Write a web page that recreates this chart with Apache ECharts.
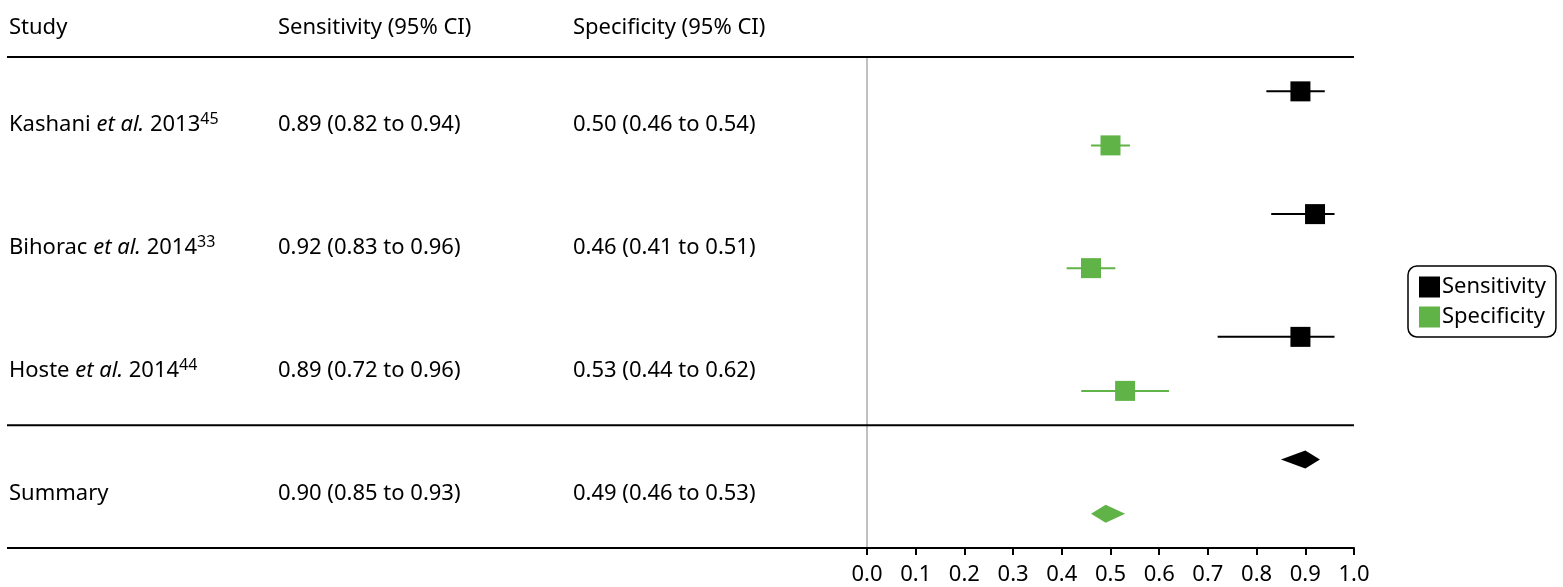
<!DOCTYPE html>
<html><head><meta charset="utf-8">
<script src="https://cdn.jsdelivr.net/npm/echarts@6/dist/echarts.min.js"></script>
<style>html,body{margin:0;padding:0;background:#fff}#c{width:1563px;height:587px}</style>
</head><body><div id="c"></div>
<script>
// ---- data ----
const studyNames = ['Kashani', 'Bihorac', 'Hoste'];
const studyYears = ['2013', '2014', '2014'];
const studyRefs = ['45', '33', '44'];
const sensEst = [0.89, 0.92, 0.89];
const sensLow = [0.82, 0.83, 0.72];
const sensHigh = [0.94, 0.96, 0.96];
const specEst = [0.50, 0.46, 0.53];
const specLow = [0.46, 0.41, 0.44];
const specHigh = [0.54, 0.51, 0.62];
const summarySens = [0.90, 0.85, 0.93]; // est, low, high
const summarySpec = [0.49, 0.46, 0.53];
const headers = ['Study', 'Sensitivity (95% CI)', 'Specificity (95% CI)'];
const xTickLabels = ['0.0','0.1','0.2','0.3','0.4','0.5','0.6','0.7','0.8','0.9','1.0'];

const GREEN = '#60b346';
const FONT = '"Noto Sans", "Open Sans", sans-serif';
const FS = 22;

// layout (row slots)
const SENS_OFF = 0.28, SPEC_OFF = 0.72, TEXT_OFF = 0.555;
const COLS = [9, 278, 573];
const RULE_X = [7, 1354];

function fmt(e, l, h) { return e.toFixed(2) + ' (' + l.toFixed(2) + ' to ' + h.toFixed(2) + ')'; }

// build text table
const textItems = [];
const textStrings = [];
headers.forEach((h, j) => { textItems.push([COLS[j], -0.235]); textStrings.push('{n|' + h + '}'); });
studyNames.forEach((s, i) => {
  textItems.push([COLS[0], i + TEXT_OFF]);
  textStrings.push('{n|' + s + ' }{i|et al.}{n| ' + studyYears[i] + '}{s|' + studyRefs[i] + '}');
  textItems.push([COLS[1], i + TEXT_OFF]);
  textStrings.push('{n|' + fmt(sensEst[i], sensLow[i], sensHigh[i]) + '}');
  textItems.push([COLS[2], i + TEXT_OFF]);
  textStrings.push('{n|' + fmt(specEst[i], specLow[i], specHigh[i]) + '}');
});
textItems.push([COLS[0], 3 + TEXT_OFF]); textStrings.push('{n|Summary}');
textItems.push([COLS[1], 3 + TEXT_OFF]); textStrings.push('{n|' + fmt(summarySens[0], summarySens[1], summarySens[2]) + '}');
textItems.push([COLS[2], 3 + TEXT_OFF]); textStrings.push('{n|' + fmt(summarySpec[0], summarySpec[1], summarySpec[2]) + '}');

const rich = {
  n: { fontFamily: FONT, fontSize: FS, lineHeight: 27, color: '#000' },
  i: { fontFamily: FONT, fontSize: FS, lineHeight: 27, fontStyle: 'italic', color: '#000' },
  s: { fontFamily: FONT, fontSize: 16, lineHeight: 20, verticalAlign: 'top', color: '#000' }
};

const sensData = sensEst.map((v, i) => [v, i + SENS_OFF]);
const specData = specEst.map((v, i) => [v, i + SPEC_OFF]);
const sensCI = sensEst.map((v, i) => [sensLow[i], sensHigh[i], i + SENS_OFF]);
const specCI = specEst.map((v, i) => [specLow[i], specHigh[i], i + SPEC_OFF]);

function whisker(color) {
  return function (params, api) {
    const a = api.coord([api.value(0), api.value(2)]);
    const b = api.coord([api.value(1), api.value(2)]);
    return { type: 'line', shape: { x1: a[0], y1: a[1], x2: b[0], y2: b[1] }, style: { stroke: color, lineWidth: 2 } };
  };
}
function diamond(color) {
  return function (params, api) {
    const y = api.value(3);
    const l = api.coord([api.value(1), y]);
    const r = api.coord([api.value(2), y]);
    const c = api.coord([api.value(0), y]);
    const hh = 9;
    return { type: 'polygon', shape: { points: [[l[0], l[1]], [c[0], c[1] - hh], [r[0], r[1]], [c[0], c[1] + hh]] }, style: { fill: color } };
  };
}

const chart = echarts.init(document.getElementById('c'), null, { renderer: 'canvas' });
chart.setOption({
  animation: false,
  backgroundColor: '#fff',
  grid: [
    { left: 867, right: 209, top: 57, bottom: 39 },
    { left: 0, right: 0, top: 57, bottom: 39 }
  ],
  xAxis: [
    {
      gridIndex: 0, type: 'value', min: 0, max: 1, interval: 0.1, position: 'bottom',
      axisLine: { show: true, onZero: false, lineStyle: { color: '#000', width: 2 } },
      axisTick: { show: true, length: 7, lineStyle: { color: '#000', width: 2 } },
      axisLabel: { fontFamily: FONT, fontSize: FS, color: '#000', margin: 16,
        formatter: (v) => xTickLabels[Math.round(v * 10)] },
      splitLine: { show: false }
    },
    { gridIndex: 1, type: 'value', min: 0, max: 1563, show: false }
  ],
  yAxis: [
    {
      gridIndex: 0, type: 'value', min: 0, max: 4, inverse: true,
      axisLine: { show: true, onZero: false, lineStyle: { color: '#c0c0c0', width: 2 } },
      axisTick: { show: false }, axisLabel: { show: false }, splitLine: { show: false }
    },
    { gridIndex: 1, type: 'value', min: 0, max: 4, inverse: true, show: false }
  ],
  legend: {
    orient: 'vertical', left: 1408, top: 266,
    padding: [10, 10, 9, 11], itemGap: 8, itemWidth: 21, itemHeight: 21,
    borderColor: '#000', borderWidth: 1.5, borderRadius: 9,
    textStyle: { fontFamily: FONT, fontSize: 22, color: '#000', padding: [0, 0, 0, -3] },
    data: [{ name: 'Sensitivity', icon: 'rect' }, { name: 'Specificity', icon: 'rect' }]
  },
  series: [
    {
      type: 'custom', name: 'rules', xAxisIndex: 1, yAxisIndex: 1, silent: true, z: 5,
      data: [[0], [3], [4]],
      renderItem: (params, api) => {
        const a = api.coord([RULE_X[0], api.value(0)]);
        const b = api.coord([RULE_X[1], api.value(0)]);
        return { type: 'line', shape: { x1: a[0], y1: a[1], x2: b[0], y2: b[1] }, style: { stroke: '#000', lineWidth: 2 } };
      }
    },
    {
      type: 'custom', name: 'table', xAxisIndex: 1, yAxisIndex: 1, silent: true, clip: false,
      data: textItems,
      renderItem: (params, api) => {
        const p = api.coord([api.value(0), api.value(1)]);
        return { type: 'text', x: p[0], y: p[1], style: { text: textStrings[params.dataIndex], rich: rich, fill: '#000', align: 'left', verticalAlign: 'middle', font: FS + 'px ' + FONT } };
      }
    },
    { type: 'custom', name: 'sensCI', renderItem: whisker('#000'), data: sensCI, z: 2, silent: true },
    { type: 'custom', name: 'specCI', renderItem: whisker(GREEN), data: specCI, z: 2, silent: true },
    { type: 'scatter', name: 'Sensitivity', symbol: 'rect', symbolSize: 20, itemStyle: { color: '#000', opacity: 1 }, data: sensData, z: 3 },
    { type: 'scatter', name: 'Specificity', symbol: 'rect', symbolSize: 20, itemStyle: { color: GREEN, opacity: 1 }, data: specData, z: 3 },
    { type: 'custom', name: 'sumSens', renderItem: diamond('#000'), data: [[summarySens[0], summarySens[1], summarySens[2], 3 + SENS_OFF]], silent: true },
    { type: 'custom', name: 'sumSpec', renderItem: diamond(GREEN), data: [[summarySpec[0], summarySpec[1], summarySpec[2], 3 + SPEC_OFF]], silent: true }
  ]
});
</script>
</body></html>
